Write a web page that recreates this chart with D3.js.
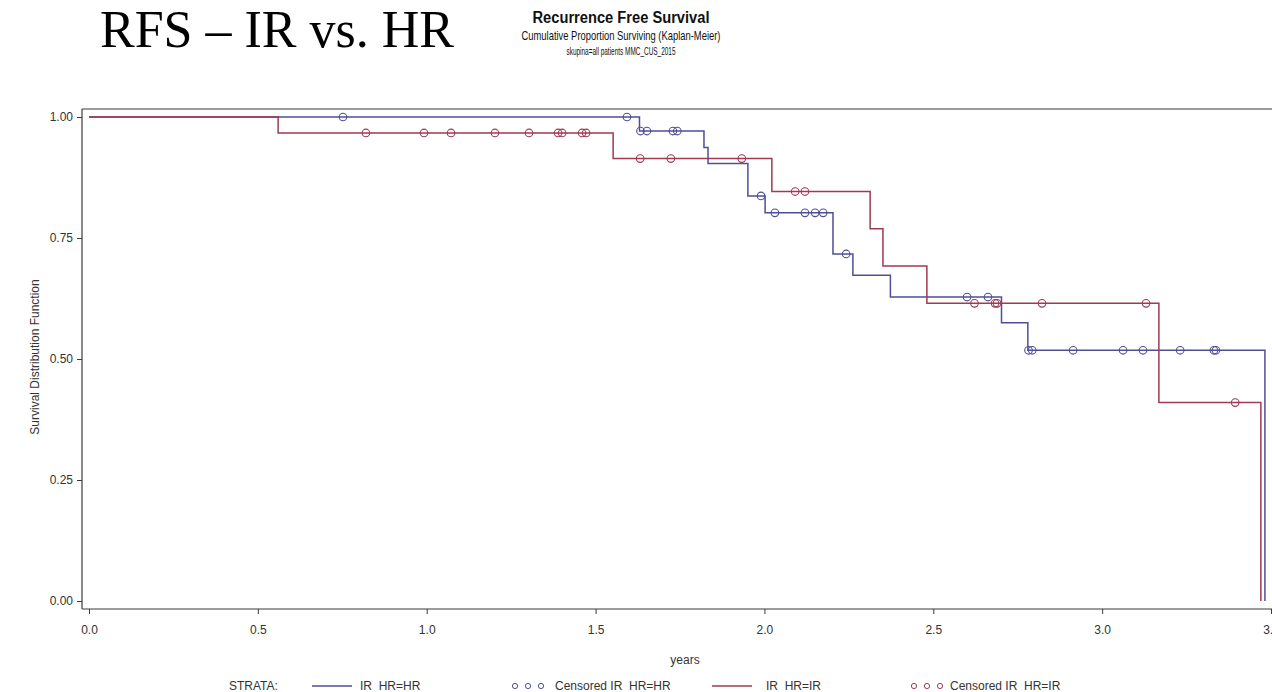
<!DOCTYPE html>
<html>
<head>
<meta charset="utf-8">
<script src="https://cdn.jsdelivr.net/npm/d3@7/dist/d3.min.js"></script>
<style>
  html, body { margin: 0; padding: 0; background: #fff; }
  svg { display: block; }
  text { font-family: Arial, "Liberation Sans", sans-serif; }
</style>
</head>
<body>
<svg id="chart" width="1272" height="692"></svg>
<script>
// ---- data ----
const seriesNames = ["IR  HR=HR", "IR  HR=IR"];

// IR HR=HR (blue): event times (years) and survival after each event
const hrTimes    = [1.630, 1.821, 1.833, 1.951, 2.002, 2.203, 2.262, 2.373, 2.702, 2.780, 3.482];
const hrSurv     = [0.971, 0.937, 0.904, 0.837, 0.802, 0.717, 0.673, 0.628, 0.575, 0.518, 0.000];
const hrCensored = [0.752, 1.593, 1.633, 1.652, 1.729, 1.742, 1.990, 2.031, 2.120, 2.150, 2.174,
                    2.242, 2.600, 2.662, 2.782, 2.793, 2.914, 3.062, 3.121, 3.231, 3.331, 3.337];

// IR HR=IR (red)
const irTimes    = [0.560, 1.552, 2.022, 2.313, 2.351, 2.481, 3.168, 3.470];
const irSurv     = [0.967, 0.914, 0.846, 0.769, 0.692, 0.615, 0.410, 0.000];
const irCensored = [0.820, 0.992, 1.072, 1.202, 1.303, 1.389, 1.401, 1.460, 1.472,
                    1.632, 1.723, 1.933, 2.091, 2.120, 2.622, 2.683, 2.689, 2.822, 3.130, 3.394];

const xTicks = [0, 0.5, 1.0, 1.5, 2.0, 2.5, 3.0, 3.5];
const yTicks = [0, 0.25, 0.5, 0.75, 1.0];

// ---- drawing ----
const svg = d3.select("#chart");
const blue = "#4d4f98";
const red  = "#a03a52";
const axisGrey = "#3a3a3a";

const x = d3.scaleLinear().domain([0, 3.5]).range([89, 1271]);
const y = d3.scaleLinear().domain([0, 1]).range([601, 117]);

// titles
svg.append("text").attr("x", 100).attr("y", 47)
  .style("font-family", "'Liberation Serif', 'Times New Roman', serif")
  .style("font-size", "52px").attr("fill", "#000")
  .text("RFS – IR vs. HR");

svg.append("text").attr("x", 621).attr("y", 23).attr("text-anchor", "middle")
  .style("font-size", "16px").style("font-weight", "bold").attr("fill", "#111")
  .attr("textLength", 177).attr("lengthAdjust", "spacingAndGlyphs")
  .text("Recurrence Free Survival");
svg.append("text").attr("x", 621).attr("y", 40).attr("text-anchor", "middle")
  .style("font-size", "13px").attr("fill", "#111")
  .attr("textLength", 199).attr("lengthAdjust", "spacingAndGlyphs")
  .text("Cumulative Proportion Surviving (Kaplan-Meier)");
svg.append("text").attr("x", 621).attr("y", 55).attr("text-anchor", "middle")
  .style("font-size", "11px").attr("fill", "#111")
  .attr("textLength", 109).attr("lengthAdjust", "spacingAndGlyphs")
  .text("skupina=all patients MMC_CUS_2015");

// frame (top border and left/bottom axes)
svg.append("line").attr("x1", 82).attr("x2", 1272).attr("y1", 109).attr("y2", 109)
  .attr("stroke", axisGrey).attr("stroke-width", 1.2);

// y axis
const yAxis = d3.axisLeft(y).tickValues(yTicks).tickFormat(d3.format(".2f")).tickSize(5).tickPadding(4);
const gy = svg.append("g").attr("transform", "translate(82,0)").call(yAxis);
gy.select(".domain").attr("d", "M0,109V609").attr("stroke", axisGrey).attr("stroke-width", 1.2);
gy.selectAll(".tick line").attr("stroke", axisGrey);
gy.selectAll(".tick text").style("font-size", "12px").attr("fill", "#333")
  .style("font-family", "Arial, 'Liberation Sans', sans-serif");

// x axis
const xAxis = d3.axisBottom(x).tickValues(xTicks).tickFormat(d3.format(".1f")).tickSize(5).tickPadding(11);
const gx = svg.append("g").attr("transform", "translate(0,609)").call(xAxis);
gx.select(".domain").attr("d", "M82,0H1272").attr("stroke", axisGrey).attr("stroke-width", 1.2);
gx.selectAll(".tick line").attr("stroke", axisGrey);
gx.selectAll(".tick text").style("font-size", "12px").attr("fill", "#333")
  .style("font-family", "Arial, 'Liberation Sans', sans-serif");

// axis titles
svg.append("text").attr("transform", "translate(39,357) rotate(-90)").attr("text-anchor", "middle")
  .style("font-size", "12px").attr("fill", "#333")
  .text("Survival Distribution Function");
svg.append("text").attr("x", 685).attr("y", 664).attr("text-anchor", "middle")
  .style("font-size", "12px").attr("fill", "#333").text("years");

// survival curves
function stepPoints(times, surv) {
  const pts = [[0, 1]];
  times.forEach((t, i) => pts.push([t, surv[i]]));
  return pts;
}
function survAt(times, surv, t) {
  const i = d3.bisectRight(times, t);
  return i === 0 ? 1 : surv[i - 1];
}
const line = d3.line().x(d => x(d[0])).y(d => y(d[1])).curve(d3.curveStepAfter);

const series = [
  { name: seriesNames[0], times: hrTimes, surv: hrSurv, cens: hrCensored, color: blue },
  { name: seriesNames[1], times: irTimes, surv: irSurv, cens: irCensored, color: red }
];

series.forEach(s => {
  svg.append("path").datum(stepPoints(s.times, s.surv))
    .attr("d", line).attr("fill", "none").attr("stroke", s.color).attr("stroke-width", 1.5);
});
series.forEach(s => {
  svg.selectAll(null).data(s.cens).enter().append("circle")
    .attr("cx", d => x(d)).attr("cy", d => y(survAt(s.times, s.surv, d)))
    .attr("r", 3.8).attr("fill", "none").attr("stroke", s.color).attr("stroke-width", 1.1);
});

// legend
const ly = 690;
const lg = svg.append("g").style("font-size", "12px");
lg.append("text").attr("x", 229).attr("y", ly).attr("fill", "#333").text("STRATA:");
const legendItems = [
  { type: "line", color: blue, x: 312, label: seriesNames[0], tx: 360 },
  { type: "cens", color: blue, x: 515, label: "Censored IR  HR=HR", tx: 555 },
  { type: "line", color: red,  x: 712, label: seriesNames[1], tx: 766 },
  { type: "cens", color: red,  x: 914, label: "Censored IR  HR=IR", tx: 950 }
];
legendItems.forEach(it => {
  if (it.type === "line") {
    lg.append("line").attr("x1", it.x).attr("x2", it.x + 40).attr("y1", ly - 4).attr("y2", ly - 4)
      .attr("stroke", it.color).attr("stroke-width", 1.5);
  } else {
    [0, 13, 26].forEach(dx => lg.append("circle").attr("cx", it.x + dx).attr("cy", ly - 4)
      .attr("r", 2.6).attr("fill", "none").attr("stroke", it.color).attr("stroke-width", 1));
  }
  lg.append("text").attr("x", it.tx).attr("y", ly).attr("fill", "#333")
    .style("white-space", "pre").attr("xml:space", "preserve").text(it.label);
});
</script>
</body>
</html>
